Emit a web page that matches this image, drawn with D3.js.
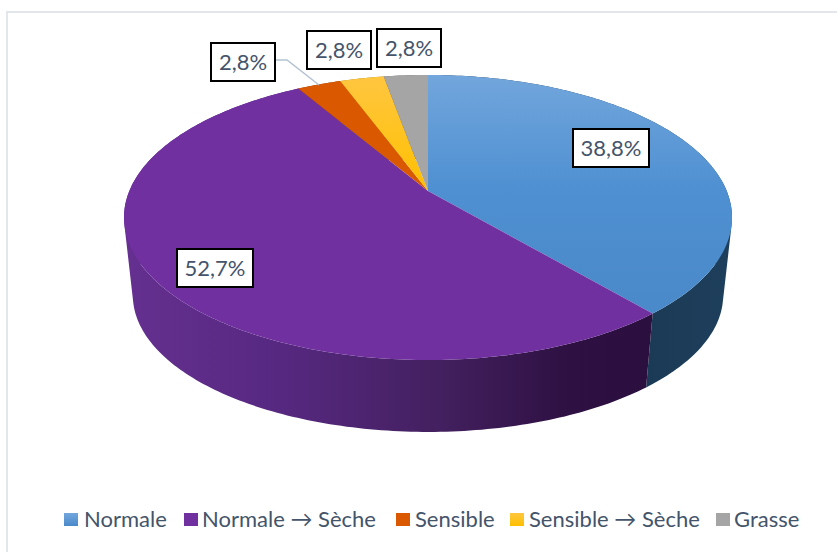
<!DOCTYPE html>
<html><head><meta charset="utf-8">
<script src="https://cdn.jsdelivr.net/npm/d3@7"></script>
<style>html,body{margin:0;padding:0;background:#fff}svg{display:block}text{font-family:Lato,"Noto Sans",sans-serif}</style>
</head><body><svg id="c" width="837" height="552"></svg>
<script>
const categories = ["Normale","Normale → Sèche","Sensible","Sensible → Sèche","Grasse"];
const values = [38.8,52.7,2.8,2.8,2.8];
const labels = ["38,8%","52,7%","2,8%","2,8%","2,8%"];

const topColors = ["url(#gBlue)","#7030a0","#d95800","url(#gYellow)","#a5a5a5"];
const wallColors = ["url(#gBlueWall)","url(#gPurpleWall)","#8a3800","#a07800","#666"];
const legendSwatches = ["url(#lBlue)","#7030a0","#d95800","url(#lYellow)","#a5a5a5"];
const labelBoxes = [[573,129,76,38],[177,249,76,38],[211,43,64,38],[307,31,64,38],[377,29,64,38]];
const legendSwatchX = [64,184,396,510,716];
const legendTextX = [84,202,415,529,734];

const svg = d3.select("#c");
const defs = svg.append("defs");
function grad(id,x1,y1,x2,y2,stops){
  const g=defs.append("linearGradient").attr("id",id).attr("gradientUnits","userSpaceOnUse")
    .attr("x1",x1).attr("y1",y1).attr("x2",x2).attr("y2",y2);
  stops.forEach(s=>g.append("stop").attr("offset",s[0]).attr("stop-color",s[1]));
}
grad("gBlue",0,75,0,300,[[0,"#72a6dc"],[0.5,"#4f90d2"],[1,"#4a8aca"]]);
grad("gYellow",0,78,0,190,[[0,"#ffc63f"],[1,"#ffc000"]]);
grad("gBlueWall",648,0,730,0,[[0,"#1b3a55"],[1,"#1e3f5c"]]);
grad("gPurpleWall",125,0,650,0,[[0,"#653090"],[0.3,"#562880"],[0.6,"#43205f"],[0.85,"#2e1042"],[1,"#2b0f3f"]]);
grad("lBlue",0,513,0,526,[[0,"#72a6dc"],[1,"#4a8aca"]]);
grad("lYellow",0,513,0,526,[[0,"#ffc63f"],[1,"#ffc000"]]);

// frame
svg.append("path").attr("d","M7,552V12H837").attr("fill","none").attr("stroke","#e3e6ea").attr("stroke-width",2);

// perspective projection of the pie disc: top rim and bottom rim
const persp = 0.186;
const topRim = t => { const u=Math.sin(t), v=-Math.cos(t), d=1-persp*v;
  return [428+298.7*u/d, 191+137.6*v/d]; };
const botRim = t => { const u=Math.sin(t), v=-Math.cos(t), d=1-persp*v;
  return [428+290*u/d, 270+131.8*v/d]; };

const arcs = d3.pie().sort(null).value(d=>d).startAngle(0).endAngle(2*Math.PI)(values);
const line = d3.line();
const samples = (a,b)=>{ const n=Math.max(8,Math.ceil((b-a)*60)); return d3.range(n+1).map(i=>a+(b-a)*i/n); };

// walls: one quad per sampled step, all wound the same way so the silhouette is filled
function wallPath(d){
  const ts=samples(d.startAngle,d.endAngle);
  let s="";
  for(let i=0;i<ts.length-1;i++){
    const q=[topRim(ts[i]),topRim(ts[i+1]),botRim(ts[i+1]),botRim(ts[i])];
    if(d3.polygonArea(q)<0) q.reverse();
    s+=line(q)+"Z";
  }
  return s;
}
svg.append("g").selectAll("path").data(arcs).join("path")
  .attr("d",wallPath)
  .attr("fill",(d,i)=>wallColors[i]);

// top faces
svg.append("g").selectAll("path").data(arcs).join("path")
  .attr("d",d=>{ const ts=samples(d.startAngle,d.endAngle);
    return line([[428,191]].concat(ts.map(topRim)))+"Z"; })
  .attr("fill",(d,i)=>topColors[i]);

// leader line
svg.append("path").attr("d","M275,60H287L319,85").attr("fill","none").attr("stroke","#b4c2d4").attr("stroke-width",1.5);

// data labels
const lab = svg.append("g").selectAll("g").data(labels).join("g");
lab.append("rect").attr("x",(d,i)=>labelBoxes[i][0]).attr("y",(d,i)=>labelBoxes[i][1])
  .attr("width",(d,i)=>labelBoxes[i][2]).attr("height",(d,i)=>labelBoxes[i][3])
  .attr("fill","#fff").attr("stroke","#000").attr("stroke-width",2);
lab.append("text").attr("x",(d,i)=>labelBoxes[i][0]+labelBoxes[i][2]/2)
  .attr("y",(d,i)=>labelBoxes[i][1]+labelBoxes[i][3]/2+8)
  .attr("text-anchor","middle").attr("font-size",22).attr("fill","#44546a").text(d=>d);

// legend
const leg = svg.append("g").selectAll("g").data(categories).join("g");
leg.append("rect").attr("x",(d,i)=>legendSwatchX[i]).attr("y",513).attr("width",14).attr("height",13)
  .attr("fill",(d,i)=>legendSwatches[i]);
leg.append("text").attr("x",(d,i)=>legendTextX[i]).attr("y",527).attr("font-size",22)
  .attr("fill","#44546a").text(d=>d);
</script></body></html>
